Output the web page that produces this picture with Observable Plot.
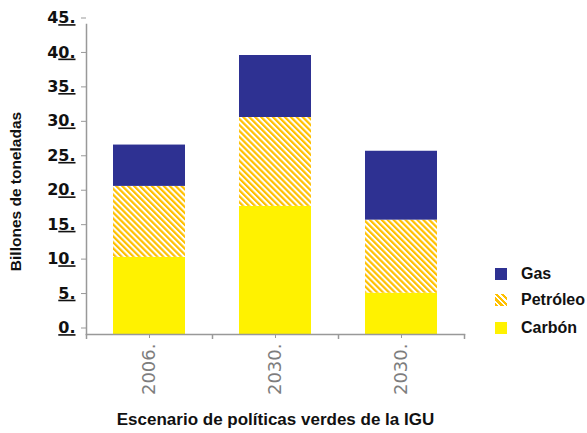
<!DOCTYPE html>
<html><head><meta charset="utf-8">
<script src="https://cdn.jsdelivr.net/npm/d3@7"></script>
<script src="https://cdn.jsdelivr.net/npm/@observablehq/plot@0.6"></script>
<style>
body{margin:0;background:#fff;font-family:"Liberation Sans",Arial,sans-serif}
#wrap{position:relative;width:587px;height:433px;overflow:hidden}
.item{position:absolute;left:495px;height:20px;display:flex;align-items:center;font-weight:bold;font-size:16px;white-space:nowrap;color:#111}
.sw{width:12px;height:12px;margin-right:14px;flex:none}
g[aria-label="y-axis tick"] path{stroke:#999}
g[aria-label="x-axis tick"] path{stroke:#999}
g[aria-label="y-axis tick label"]{fill:#111;font-family:"DejaVu Sans",sans-serif}
g[aria-label="x-axis tick label"]{fill:#7d7d7d;font-family:"DejaVu Sans",sans-serif}
</style></head><body><div id="wrap"></div>
<script>
const scenarioKeys = ["2006", "2030 ref", "2030 IGU"];
const scenarioLabels = ["2006.", "2030.", "2030."];
const fuels = ["Carbón", "Petróleo", "Gas"];
const carbon = [11.2, 18.6, 6.0];
const petroleum = [10.3, 12.9, 10.6];
const gas = [6.0, 9.0, 10.0];
const yTicks = [0, 5, 10, 15, 20, 25, 30, 35, 40, 45];
const fuelColors = ["#FFF200", "url(#hatch)", "#2E3192"];
const legendOrder = ["Gas", "Petróleo", "Carbón"];
const xTitle = "Escenario de políticas verdes de la IGU";
const yTitle = "Billones de toneladas";

const series = [carbon, petroleum, gas];
const rows = [];
fuels.forEach((f, j) => scenarioKeys.forEach((s, i) => rows.push({scenario: s, fuel: f, value: series[j][i]})));
const labelOf = new Map(scenarioKeys.map((k, i) => [k, scenarioLabels[i]]));

const defs = () => {
  const ns = "http://www.w3.org/2000/svg";
  const d = document.createElementNS(ns, "defs");
  d.innerHTML = `<pattern id="hatch" patternUnits="userSpaceOnUse" width="4.2" height="4.2" patternTransform="rotate(-45)"><rect width="4.2" height="4.2" fill="#fff"/><rect width="2.2" height="4.2" fill="#FFC000"/></pattern>`;
  return d;
};

const chart = Plot.plot({
  width: 587, height: 433,
  marginLeft: 86, marginRight: 123, marginTop: 24, marginBottom: 99,
  style: {fontFamily: '"Liberation Sans", Arial, sans-serif', background: "white", overflow: "visible"},
  x: {domain: scenarioKeys, paddingInner: 0.43, paddingOuter: 0.215},
  y: {domain: [0, 45]},
  color: {domain: fuels, range: fuelColors},
  marks: [
    defs,
    Plot.barY(rows, {x: "scenario", y: "value", fill: "fuel", order: fuels}),
    Plot.frame({anchor: "left", stroke: "#999", strokeWidth: 1.5}),
    Plot.frame({anchor: "bottom", stroke: "#999", strokeWidth: 1.5}),
    Plot.ruleX(scenarioKeys, {x: d => d, y1: 0, y2: 0, insetBottom: -5, dx: -63, stroke: "#999", strokeWidth: 1.5}),
    Plot.ruleX(scenarioKeys.slice(-1), {x: d => d, y1: 0, y2: 0, insetBottom: -5, dx: 63, stroke: "#999", strokeWidth: 1.5}),
    Plot.axisY({ticks: yTicks, tickFormat: d => d + ".", tickSize: 5, tickPadding: 6, fontSize: 16, fontWeight: "bold", dy: -6.5, label: null}),
    Plot.axisX({tickSize: 4, tickPadding: 5, tickRotate: -90, textAnchor: "end", tickFormat: k => labelOf.get(k), fontSize: 18, label: null}),
    Plot.text([xTitle], {text: d => d, frameAnchor: "bottom", dy: 90, fontSize: 17, fontWeight: "bold", fill: "#111"}),
    Plot.text([yTitle], {text: d => d, frameAnchor: "left", textAnchor: "middle", rotate: -90, dx: -70, dy: 12, fontSize: 15.5, fontWeight: "bold", fill: "#111"})
  ]
});

// underline the last two characters of each y tick label
chart.querySelectorAll('g[aria-label="y-axis tick label"] text').forEach(t => {
  const s = t.textContent;
  const head = s.slice(0, -2), tail = s.slice(-2);
  t.textContent = head;
  const ts = document.createElementNS("http://www.w3.org/2000/svg", "tspan");
  ts.textContent = tail;
  ts.setAttribute("text-decoration", "underline");
  ts.style.textDecoration = "underline";
  t.appendChild(ts);
});

const wrap = document.getElementById("wrap");
wrap.appendChild(chart);

const swatchStyle = {
  "Gas": "background:#2E3192",
  "Petróleo": "background:repeating-linear-gradient(45deg,#FFC000 0 2.2px,#fff 2.2px 4.2px)",
  "Carbón": "background:#FFF200"
};
const legendTops = [264, 290, 318];
legendOrder.forEach((f, i) => {
  const it = document.createElement("div");
  it.className = "item";
  it.style.top = legendTops[i] + "px";
  it.innerHTML = `<span class="sw" style="${swatchStyle[f]}"></span><span>${f}</span>`;
  wrap.appendChild(it);
});
</script></body></html>
